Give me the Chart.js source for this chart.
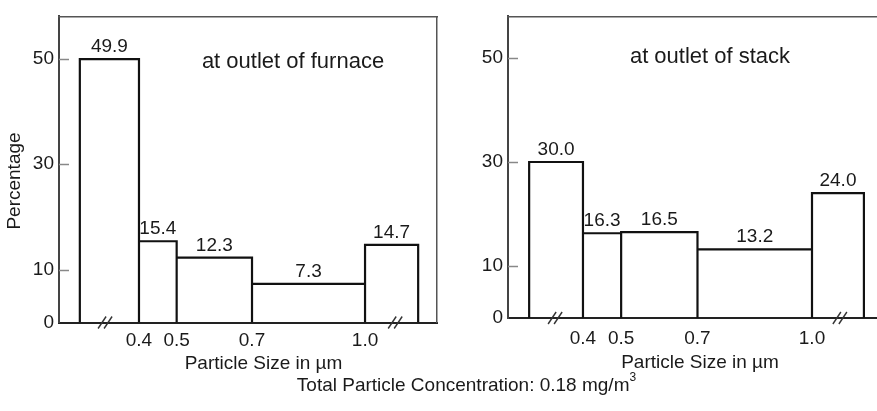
<!DOCTYPE html>
<html><head><meta charset="utf-8">
<script src="https://cdn.jsdelivr.net/npm/chart.js@4/dist/chart.umd.min.js"></script>
<style>
html,body{margin:0;padding:0;background:#fff;overflow:hidden;width:877px;height:411px;}
.wrap{position:absolute;top:0;width:440px;height:411px;}
#w1{left:0;} #w2{left:440px;}
#note{position:absolute;left:28px;width:877px;top:374px;text-align:center;font:19px "Liberation Sans",Arial,Helvetica,sans-serif;color:#1a1a1a;line-height:22px;white-space:nowrap;}
#note sup{font-size:12px;line-height:0;position:relative;top:-3px;}
</style></head>
<body>
<div class="wrap" id="w1"><canvas id="c1" width="440" height="411"></canvas></div>
<div class="wrap" id="w2"><canvas id="c2" width="440" height="411"></canvas></div>
<div id="note">Total Particle Concentration: 0.18 mg/m<sup>3</sup></div>
<script>
// ---- data ----
const xTickValues = [0.4, 0.5, 0.7, 1.0];
const xTickLabels = ['0.4', '0.5', '0.7', '1.0'];
const yTickValues = [0, 10, 30, 50];
const furnaceValues = [49.9, 15.4, 12.3, 7.3, 14.7];
const stackValues = [30.0, 16.3, 16.5, 13.2, 24.0];
// bin edges (outer edges sit on the broken part of the axis)
const furnaceEdges = [0.243, 0.4, 0.5, 0.7, 1.0, 1.141];
const stackEdges = [0.259, 0.4, 0.5, 0.7, 1.0, 1.136];
// axis-break positions
const furnaceBreaks = [0.31, 1.08];
const stackBreaks = [0.327, 1.073];

const FONT = '"Liberation Sans", Arial, Helvetica, sans-serif';
const TXT = '#1a1a1a';

function outline(edges, values) {
  const pts = [];
  values.forEach((v, i) => {
    pts.push({x: edges[i], y: 0}, {x: edges[i], y: v}, {x: edges[i+1], y: v}, {x: edges[i+1], y: 0}, {x: edges[i+1], y: null});
  });
  return pts;
}

function makeChart(id, cfg) {
  const H = 411, W = 440;
  const extras = {
    id: 'extras',
    afterDatasetsDraw(chart) {
      const ctx = chart.ctx, xs = chart.scales.x, ys = chart.scales.y, a = chart.chartArea;
      ctx.save();
      // inside y tick marks
      ctx.strokeStyle = '#888'; ctx.lineWidth = 1.5;
      yTickValues.forEach(v => {
        if (v === 0) return;
        const py = Math.round(ys.getPixelForValue(v)) + 0.5;
        ctx.beginPath(); ctx.moveTo(a.left, py); ctx.lineTo(a.left + 10, py); ctx.stroke();
      });
      // axis breaks
      ctx.strokeStyle = '#333'; ctx.lineWidth = 1.4;
      const py0 = ys.getPixelForValue(0);
      cfg.breaks.forEach(b => {
        const px = xs.getPixelForValue(b);
        [-3, 3].forEach(o => {
          ctx.beginPath(); ctx.moveTo(px + o - 4, py0 + 6); ctx.lineTo(px + o + 4, py0 - 6); ctx.stroke();
        });
      });
      // value labels
      ctx.fillStyle = TXT; ctx.font = '19px ' + FONT; ctx.textAlign = 'center'; ctx.textBaseline = 'alphabetic';
      cfg.values.forEach((v, i) => {
        const cx = xs.getPixelForValue((cfg.edges[i] + cfg.edges[i+1]) / 2);
        ctx.fillText(v.toFixed(1), cx, ys.getPixelForValue(v) - 7);
      });
      // texts
      cfg.texts.forEach(t => {
        ctx.save();
        ctx.font = t.size + 'px ' + FONT; ctx.textAlign = 'center'; ctx.textBaseline = t.baseline || 'alphabetic';
        ctx.translate(t.x, t.y); if (t.rot) ctx.rotate(t.rot);
        ctx.fillText(t.text, 0, 0);
        ctx.restore();
      });
      ctx.restore();
    }
  };
  const hidden = (pos) => ({
    type: 'linear', position: pos, min: pos === 'top' ? cfg.xmin : 0, max: pos === 'top' ? cfg.xmax : 58,
    ticks: {display: false}, grid: {display: false, drawTicks: false},
    border: {display: true, color: '#555', width: 1.5},
    afterFit: s => { if (pos === 'top') s.height = 0; else s.width = 0; }
  });
  return new Chart(document.getElementById(id), {
    type: 'line',
    data: {datasets: [{
      data: outline(cfg.edges, cfg.values), borderColor: '#111', borderWidth: 2.2,
      pointRadius: 0, fill: false, tension: 0, spanGaps: false, xAxisID: 'x', yAxisID: 'y'
    }]},
    options: {
      responsive: false, animation: false, devicePixelRatio: 1,
      layout: {padding: {left: 0, top: cfg.area.top, right: W - cfg.area.right, bottom: 0}},
      plugins: {legend: {display: false}, tooltip: {enabled: false}, title: {display: false}},
      scales: {
        x: {
          type: 'linear', position: 'bottom', min: cfg.xmin, max: cfg.xmax,
          afterBuildTicks: s => { s.ticks = xTickValues.map(v => ({value: v})); },
          ticks: {callback: (v, i) => xTickLabels[i], font: {size: 19, family: FONT}, color: TXT,
                  padding: cfg.xpad, maxRotation: 0, autoSkip: false},
          grid: {display: false, drawTicks: false},
          border: {display: true, color: '#222', width: 2},
          afterFit: s => { s.height = H - cfg.area.bottom; }
        },
        y: {
          type: 'linear', position: 'left', min: 0, max: 58,
          afterBuildTicks: s => { s.ticks = yTickValues.map(v => ({value: v})); },
          ticks: {font: {size: 19, family: FONT}, color: TXT, padding: 5},
          grid: {display: false, drawTicks: false},
          border: {display: true, color: '#444', width: 2},
          afterFit: s => { s.width = cfg.area.left; }
        },
        xTop: hidden('top'),
        yRight: hidden('right')
      }
    },
    plugins: [extras]
  });
}

makeChart('c1', {
  values: furnaceValues, edges: furnaceEdges, breaks: furnaceBreaks,
  xmin: 0.1877, xmax: 1.191, xpad: 7,
  area: {left: 59, top: 12, right: 437, bottom: 322.5},
  texts: [
    {text: 'at outlet of furnace', x: 293, y: 68, size: 22},
    {text: 'Particle Size in \u00b5m', x: 263.5, y: 369, size: 19},
    {text: 'Percentage', x: 15, y: 181, size: 19, rot: -Math.PI / 2, baseline: 'middle'}
  ]
});
makeChart('c2', {
  values: stackValues, edges: stackEdges, breaks: stackBreaks,
  xmin: 0.2036, xmax: 1.1729, xpad: 9,
  area: {left: 68, top: 6, right: 438, bottom: 318},
  texts: [
    {text: 'at outlet of stack', x: 270, y: 63, size: 22},
    {text: 'Particle Size in \u00b5m', x: 260, y: 368, size: 19}
  ]
});
</script>
</body></html>
